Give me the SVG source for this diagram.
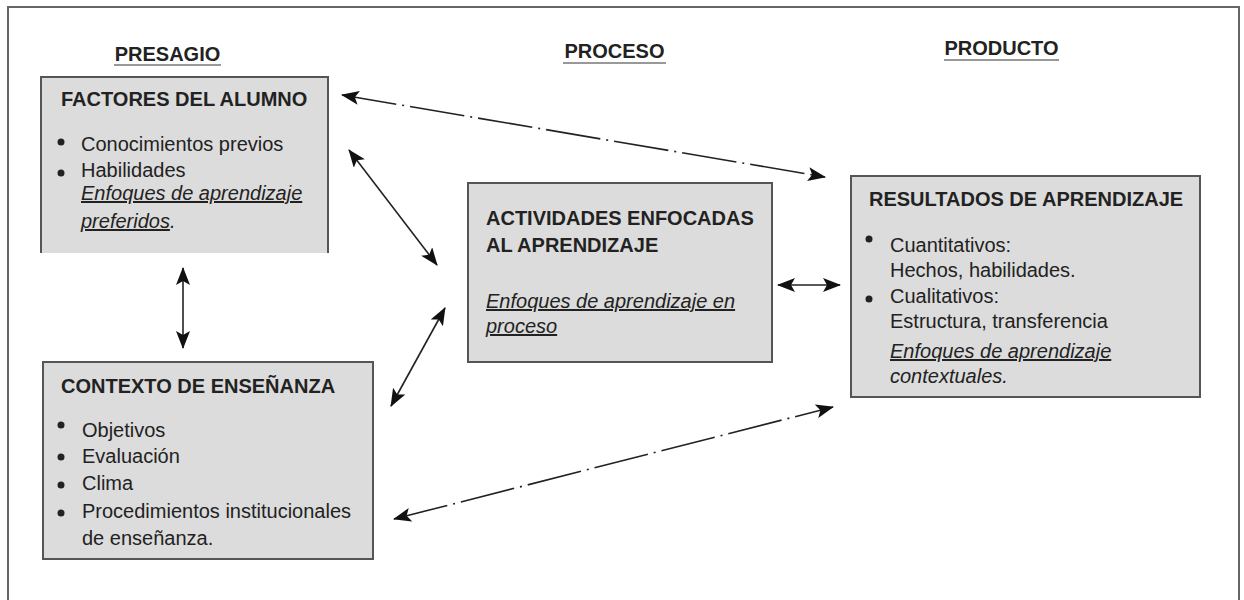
<svg xmlns="http://www.w3.org/2000/svg" width="1244" height="600" viewBox="0 0 1244 600">
<style>
text{font-family:"Liberation Sans",Arial,sans-serif;fill:#222;}
.h{font-size:20px;font-weight:bold;text-anchor:middle;}
.t{font-size:20px;font-weight:bold;}
.b{font-size:20px;}
.i{font-size:20px;font-style:italic;}
.u{text-decoration:underline;}
.box{fill:#dcdcdc;stroke:#555;stroke-width:2;}
.hl{stroke:#999;stroke-width:2;}
.c{fill:none;stroke:#222;stroke-width:1.6;}
.d{stroke-dasharray:55 6 2 6;}
.dot{fill:#222;}
</style>
<defs>
<marker id="ah" viewBox="0 0 18 14" markerWidth="18" markerHeight="14" refX="17" refY="7" orient="auto-start-reverse" markerUnits="userSpaceOnUse">
<path d="M0,0 L18,7 L0,14 L4,7 z" fill="#111"/>
</marker>
</defs>
<rect x="8" y="7" width="1231" height="620" fill="none" stroke="#666" stroke-width="2"/>

<g id="headers">
<text class="h" x="167.5" y="61">PRESAGIO</text>
<line class="hl" x1="114" y1="65" x2="221" y2="65"/>
<text class="h" x="614.5" y="58">PROCESO</text>
<line class="hl" x1="563" y1="63" x2="666" y2="63"/>
<text class="h" x="1001.5" y="55">PRODUCTO</text>
<line class="hl" x1="944" y1="60" x2="1059" y2="60"/>
</g>

<g id="factores">
<rect x="41" y="77" width="287" height="176" fill="#dcdcdc"/>
<path d="M41,253 V77 H328 V253" fill="none" stroke="#555" stroke-width="2"/>
<text class="t" x="61" y="106">FACTORES DEL ALUMNO</text>
<circle class="dot" cx="61" cy="142" r="3.5"/>
<text class="b" x="81" y="151">Conocimientos previos</text>
<circle class="dot" cx="61" cy="173" r="3.5"/>
<text class="b" x="81" y="177">Habilidades</text>
<text class="i u" x="81" y="200">Enfoques de aprendizaje</text>
<text class="i" x="81" y="228"><tspan class="u">preferidos</tspan>.</text>
</g>

<g id="contexto">
<rect class="box" x="43" y="362" width="330" height="197"/>
<text class="t" x="61" y="393">CONTEXTO DE ENSEÑANZA</text>
<circle class="dot" cx="61" cy="425" r="3.5"/>
<text class="b" x="82" y="437">Objetivos</text>
<circle class="dot" cx="61" cy="457" r="3.5"/>
<text class="b" x="82" y="463">Evaluación</text>
<circle class="dot" cx="61" cy="485" r="3.5"/>
<text class="b" x="82" y="490">Clima</text>
<circle class="dot" cx="61" cy="513" r="3.5"/>
<text class="b" x="82" y="518">Procedimientos institucionales</text>
<text class="b" x="82" y="545">de enseñanza.</text>
</g>

<g id="actividades">
<rect class="box" x="468" y="183" width="304" height="179"/>
<text class="t" x="486" y="225">ACTIVIDADES ENFOCADAS</text>
<text class="t" x="486" y="252">AL APRENDIZAJE</text>
<text class="i u" x="486" y="308">Enfoques de aprendizaje en</text>
<text class="i u" x="486" y="333">proceso</text>
</g>

<g id="resultados">
<rect class="box" x="851" y="176" width="349" height="221"/>
<text class="t" x="869" y="206">RESULTADOS DE APRENDIZAJE</text>
<circle class="dot" cx="869" cy="239" r="3.5"/>
<text class="b" x="890" y="252">Cuantitativos:</text>
<text class="b" x="890" y="277">Hechos, habilidades.</text>
<circle class="dot" cx="869" cy="299" r="3.5"/>
<text class="b" x="890" y="303">Cualitativos:</text>
<text class="b" x="890" y="328">Estructura, transferencia</text>
<text class="i u" x="890" y="358">Enfoques de aprendizaje</text>
<text class="i" x="890" y="383">contextuales.</text>
</g>

<g id="connectors">
<line class="c d" x1="342" y1="95" x2="825" y2="177" marker-start="url(#ah)" marker-end="url(#ah)"/>
<line class="c" x1="349" y1="150" x2="437" y2="265" marker-start="url(#ah)" marker-end="url(#ah)"/>
<line class="c" x1="445" y1="308" x2="391" y2="406" marker-start="url(#ah)" marker-end="url(#ah)"/>
<line class="c" x1="183" y1="268" x2="183" y2="348" marker-start="url(#ah)" marker-end="url(#ah)"/>
<line class="c" x1="778" y1="285" x2="840" y2="285" marker-start="url(#ah)" marker-end="url(#ah)"/>
<line class="c d" x1="394" y1="519" x2="833" y2="407" marker-start="url(#ah)" marker-end="url(#ah)"/>
</g>
</svg>
